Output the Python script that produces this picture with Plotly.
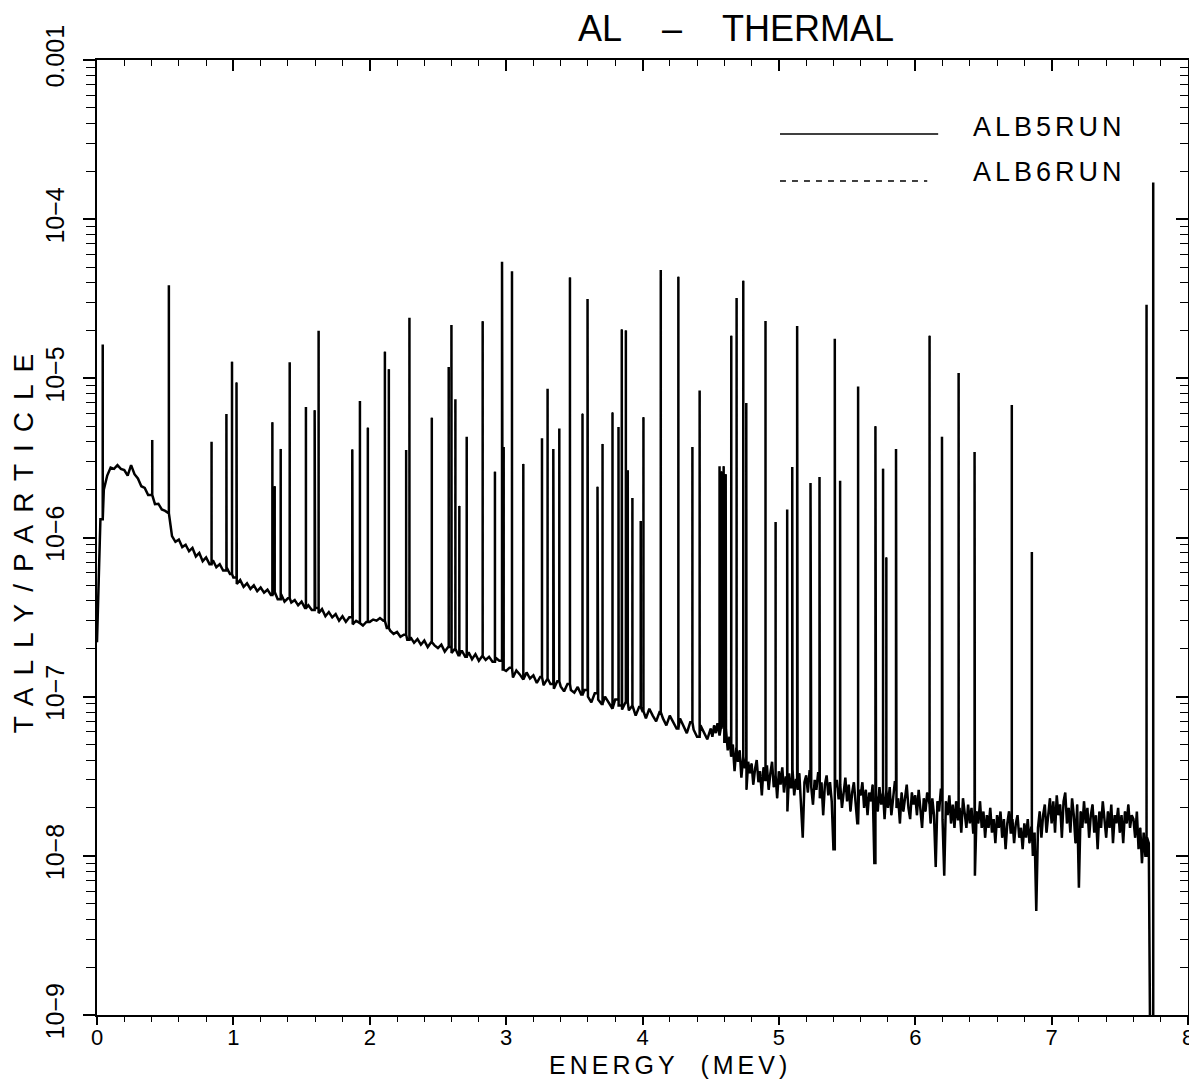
import plotly.graph_objects as go

# ---------------- data ----------------
# continuum below 4.5 MeV, bins of 0.025 MeV starting at 0
low_step = 0.025
continuum_low = [
    2.2e-7, 1.3e-6, 2.0e-6, 2.45e-6, 2.75e-6, 2.7e-6, 2.85e-6, 2.7e-6, 2.65e-6, 2.45e-6,
    2.85e-6, 2.5e-6, 2.35e-6, 2.1e-6, 2.05e-6, 1.85e-6, 1.85e-6, 1.62e-6, 1.63e-6, 1.5e-6,
    1.47e-6, 1.42e-6, 1.02e-6, 9.4e-7, 9.7e-7, 8.7e-7, 9.0e-7, 8.2e-7, 8.6e-7, 7.6e-7,
    8.0e-7, 7.1e-7, 7.5e-7, 6.8e-7, 7.2e-7, 6.5e-7, 6.8e-7, 6.2e-7, 6.5e-7, 5.9e-7,
    5.6e-7, 5.1e-7, 5.4e-7, 4.9e-7, 5.15e-7, 4.75e-7, 5.0e-7, 4.6e-7, 4.85e-7, 4.5e-7,
    4.7e-7, 4.35e-7, 4.55e-7, 4.1e-7, 4.4e-7, 3.95e-7, 4.15e-7, 3.9e-7, 4.05e-7, 3.75e-7,
    3.95e-7, 3.6e-7, 3.75e-7, 3.5e-7, 3.6e-7, 3.35e-7, 3.55e-7, 3.2e-7, 3.4e-7, 3.15e-7,
    3.3e-7, 3.0e-7, 3.2e-7, 2.95e-7, 3.15e-7, 2.85e-7, 3.0e-7, 2.9e-7, 2.8e-7, 2.95e-7,
    2.95e-7, 3.05e-7, 3.0e-7, 3.12e-7, 3.0e-7, 2.7e-7, 2.6e-7, 2.48e-7, 2.55e-7, 2.38e-7,
    2.45e-7, 2.28e-7, 2.36e-7, 2.18e-7, 2.3e-7, 2.12e-7, 2.25e-7, 2.05e-7, 2.2e-7, 2.1e-7,
    2.02e-7, 2.12e-7, 1.92e-7, 2.05e-7, 1.88e-7, 2.0e-7, 1.82e-7, 1.95e-7, 1.78e-7, 1.9e-7,
    1.72e-7, 1.85e-7, 1.68e-7, 1.8e-7, 1.7e-7, 1.78e-7, 1.66e-7, 1.75e-7, 1.68e-7, 1.48e-7,
    1.45e-7, 1.52e-7, 1.32e-7, 1.46e-7, 1.38e-7, 1.28e-7, 1.42e-7, 1.3e-7, 1.36e-7, 1.22e-7,
    1.33e-7, 1.18e-7, 1.3e-7, 1.2e-7, 1.12e-7, 1.25e-7, 1.16e-7, 1.08e-7, 1.2e-7, 1.1e-7,
    1.06e-7, 1.15e-7, 1.03e-7, 1.1e-7, 1.0e-7, 9.2e-8, 1.05e-7, 9.6e-8, 9.0e-8, 1.0e-7,
    9.2e-8, 8.4e-8, 9.6e-8, 8.8e-8, 8.3e-8, 9.2e-8, 8.2e-8, 8.8e-8, 7.6e-8, 8.6e-8,
    8.1e-8, 7.3e-8, 8.4e-8, 7.6e-8, 7.0e-8, 8.0e-8, 7.3e-8, 6.6e-8, 7.6e-8, 6.9e-8,
    6.3e-8, 7.3e-8, 6.5e-8, 5.9e-8, 6.9e-8, 6.2e-8, 5.6e-8, 6.6e-8, 5.9e-8, 5.4e-8,
]
# continuum from 4.5 MeV on, finer bins of 0.0125 MeV
high_start = 4.5
high_step = 0.0125
continuum_high = [
    6.3e-8, 5.6e-8, 6.6e-8, 5.9e-8, 6.8e-8, 5.7e-8, 6.4e-8, 7.0e-8,
    5.2e-8, 6.2e-8, 4.6e-8, 5.6e-8, 4.2e-8, 5.0e-8, 3.4e-8, 4.7e-8,
    3.9e-8, 4.6e-8, 3.1e-8, 4.2e-8, 3.6e-8, 2.6e-8, 3.9e-8, 3.3e-8,
    3.8e-8, 2.8e-8, 3.5e-8, 4.0e-8, 2.9e-8, 3.4e-8, 2.4e-8, 3.6e-8,
    3.0e-8, 3.7e-8, 2.6e-8, 3.3e-8, 3.9e-8, 2.7e-8, 3.2e-8, 2.3e-8,
    3.4e-8, 2.8e-8, 3.6e-8, 2.5e-8, 3.1e-8, 1.9e-8, 3.3e-8, 2.7e-8,
    3.5e-8, 2.4e-8, 3.0e-8, 2.6e-8, 3.3e-8, 2.2e-8, 1.3e-8, 2.9e-8,
    3.2e-8, 2.5e-8, 3.4e-8, 2.7e-8, 2.1e-8, 3.0e-8, 2.6e-8, 3.3e-8,
    2.3e-8, 2.9e-8, 1.8e-8, 2.8e-8, 3.2e-8, 2.4e-8, 2.9e-8, 2.2e-8,
    1.1e-8, 2.7e-8, 3.0e-8, 2.3e-8, 2.8e-8, 2.0e-8, 2.6e-8, 3.1e-8,
    2.2e-8, 2.8e-8, 1.9e-8, 2.5e-8, 2.9e-8, 2.1e-8, 1.6e-8, 2.6e-8,
    2.4e-8, 2.9e-8, 2.0e-8, 2.6e-8, 1.8e-8, 2.5e-8, 2.2e-8, 2.8e-8,
    9.0e-9, 2.4e-8, 1.9e-8, 2.7e-8, 2.1e-8, 2.5e-8, 1.7e-8, 2.6e-8,
    2.0e-8, 2.7e-8, 1.8e-8, 2.4e-8, 2.9e-8, 2.0e-8, 2.3e-8, 1.6e-8,
    2.5e-8, 1.9e-8, 2.3e-8, 2.8e-8, 2.0e-8, 1.7e-8, 2.5e-8, 2.1e-8,
    2.4e-8, 1.8e-8, 2.6e-8, 2.0e-8, 1.5e-8, 2.3e-8, 1.9e-8, 2.5e-8,
    2.1e-8, 1.6e-8, 2.3e-8, 1.8e-8, 8.5e-9, 2.2e-8, 1.9e-8, 2.6e-8,
    1.7e-8, 7.5e-9, 2.2e-8, 1.8e-8, 2.4e-8, 1.6e-8, 2.1e-8, 1.5e-8,
    2.2e-8, 1.7e-8, 2.0e-8, 1.4e-8, 2.3e-8, 1.8e-8, 1.5e-8, 2.1e-8,
    1.6e-8, 2.0e-8, 1.4e-8, 7.5e-9, 1.9e-8, 1.6e-8, 2.2e-8, 1.5e-8,
    1.9e-8, 1.3e-8, 1.8e-8, 1.5e-8, 2.0e-8, 1.4e-8, 1.7e-8, 1.2e-8,
    1.8e-8, 1.5e-8, 1.9e-8, 1.3e-8, 1.7e-8, 1.1e-8, 1.6e-8, 1.9e-8,
    1.4e-8, 1.7e-8, 1.2e-8, 1.6e-8, 1.8e-8, 1.3e-8, 1.5e-8, 1.1e-8,
    1.6e-8, 1.3e-8, 1.7e-8, 1.2e-8, 1.5e-8, 1.0e-8, 1.4e-8, 4.5e-9,
    1.5e-8, 1.9e-8, 1.3e-8, 1.8e-8, 2.1e-8, 1.4e-8, 1.9e-8, 2.3e-8,
    1.6e-8, 2.2e-8, 1.4e-8, 2.4e-8, 1.8e-8, 2.1e-8, 1.3e-8, 2.2e-8,
    2.5e-8, 1.6e-8, 2.0e-8, 1.4e-8, 2.3e-8, 1.8e-8, 1.2e-8, 2.1e-8,
    6.3e-9, 1.9e-8, 1.5e-8, 2.2e-8, 1.6e-8, 2.0e-8, 1.3e-8, 1.8e-8,
    2.1e-8, 1.4e-8, 1.8e-8, 1.1e-8, 1.9e-8, 1.5e-8, 2.2e-8, 1.6e-8,
    1.3e-8, 1.9e-8, 1.5e-8, 2.1e-8, 1.2e-8, 1.8e-8, 1.6e-8, 2.0e-8,
    1.4e-8, 1.8e-8, 1.2e-8, 1.9e-8, 1.6e-8, 2.1e-8, 1.5e-8, 1.8e-8,
    1.7e-8, 1.3e-8, 1.9e-8, 1.1e-8, 1.5e-8, 9.0e-9, 1.4e-8, 1.0e-8,
    1.3e-8, 1.2e-8, 3.0e-10, 3.0e-10, 3.0e-10,
]

peak_energy = [
    0.042, 0.405, 0.527, 0.840, 0.949, 0.990, 1.023, 1.286, 1.303, 1.347,
    1.413, 1.532, 1.596, 1.625, 1.872, 1.928, 1.986, 2.111, 2.140, 2.267,
    2.291, 2.455, 2.579, 2.599, 2.628, 2.657, 2.711, 2.828, 2.918, 2.970,
    2.982, 3.043, 3.126, 3.263, 3.304, 3.346, 3.390, 3.468, 3.560, 3.597,
    3.670, 3.707, 3.780, 3.824, 3.848, 3.878, 3.892, 3.926, 3.987, 4.007,
    4.134, 4.263, 4.366, 4.419, 4.565, 4.580, 4.595, 4.610, 4.651, 4.690,
    4.739, 4.761, 4.902, 4.976, 5.061, 5.098, 5.134, 5.232, 5.298, 5.410,
    5.449, 5.581, 5.708, 5.764, 5.788, 5.859, 6.105, 6.196, 6.318, 6.435,
    6.708, 6.855, 7.696, 7.745,
]
peak_height = [
    1.63e-5, 4.1e-6, 3.85e-5, 4.0e-6, 5.96e-6, 1.27e-5, 9.4e-6, 5.3e-6, 2.1e-6, 3.6e-6,
    1.26e-5, 6.6e-6, 6.3e-6, 1.99e-5, 3.57e-6, 7.2e-6, 4.9e-6, 1.47e-5, 1.14e-5, 3.54e-6,
    2.4e-5, 5.65e-6, 1.18e-5, 2.16e-5, 7.4e-6, 1.58e-6, 4.3e-6, 2.28e-5, 2.59e-6, 5.4e-5,
    3.7e-6, 4.7e-5, 2.9e-6, 4.2e-6, 8.6e-6, 3.6e-6, 4.84e-6, 4.3e-5, 6.0e-6, 3.15e-5,
    2.08e-6, 3.87e-6, 6.1e-6, 4.95e-6, 2.03e-5, 2.0e-5, 2.65e-6, 1.77e-6, 1.27e-6, 5.7e-6,
    4.8e-5, 4.35e-5, 3.7e-6, 8.4e-6, 2.8e-6, 2.6e-6, 2.8e-6, 2.5e-6, 1.85e-5, 3.2e-5,
    4.1e-5, 7.0e-6, 2.29e-5, 1.25e-6, 1.5e-6, 2.77e-6, 2.13e-5, 2.2e-6, 2.4e-6, 1.77e-5,
    2.27e-6, 8.9e-6, 5.0e-6, 2.7e-6, 7.5e-7, 3.6e-6, 1.85e-5, 4.3e-6, 1.08e-5, 3.44e-6,
    6.8e-6, 8.1e-7, 2.9e-5, 1.7e-4,
]

series_names = ["ALB5RUN", "ALB6RUN"]
x_tick_vals = [0, 1, 2, 3, 4, 5, 6, 7, 8]
x_tick_text = ["0", "1", "2", "3", "4", "5", "6", "7", "8"]
y_tick_vals = [1e-9, 1e-8, 1e-7, 1e-6, 1e-5, 1e-4, 1e-3]
y_tick_text = ["10\u22129", "10\u22128", "10\u22127", "10\u22126", "10\u22125", "10\u22124", "0.001"]
title_text = "AL\u00a0\u00a0\u00a0\u00a0\u2013\u00a0\u00a0\u00a0\u00a0THERMAL"
x_title = "ENERGY\u00a0\u00a0(MEV)"
y_title = "TALLY/PARTICLE"

# ---------------- build the spectrum line ----------------
cont_energy = [round(low_step * i, 4) for i in range(len(continuum_low))] + \
              [round(high_start + high_step * i, 4) for i in range(len(continuum_high))]
cont_value = continuum_low + continuum_high
peaks = sorted(zip(peak_energy, peak_height))
xs, ys = [], []
j = 0
for e, v in zip(cont_energy, cont_value):
    while j < len(peaks) and peaks[j][0] <= e:
        pe, ph = peaks[j]
        base = ys[-1] if ys else v
        xs += [pe, pe, pe]
        ys += [base, ph, base]
        j += 1
    xs.append(e)
    ys.append(v)

FONT = "Liberation Sans"

fig = go.Figure()
fig.add_trace(go.Scatter(x=xs, y=ys, mode="lines", name=series_names[1],
                         line=dict(color="black", width=1, dash="dash"),
                         showlegend=False, hoverinfo="skip"))
fig.add_trace(go.Scatter(x=xs, y=ys, mode="lines", name=series_names[0],
                         line=dict(color="black", width=2.5),
                         showlegend=False))
# invisible trace that carries the mirrored (top / right) axes
fig.add_trace(go.Scatter(x=[0, 8], y=[1e-9, 1e-3], xaxis="x2", yaxis="y2",
                         mode="markers", marker=dict(opacity=0),
                         showlegend=False, hoverinfo="skip"))

y_minor = [k * 10.0 ** d for d in range(-9, -3) for k in range(2, 10)]

axis_common = dict(showgrid=False, zeroline=False, showline=True, automargin=False,
                   linecolor="black", linewidth=1.5, tickcolor="black", tickwidth=1.5)

fig.update_layout(
    width=1189, height=1073,
    margin=dict(l=89, r=9, t=52, b=66),
    paper_bgcolor="white", plot_bgcolor="white",
    font=dict(family=FONT, color="black"),
    showlegend=False,
    xaxis=dict(range=[0, 8], tickmode="array", tickvals=x_tick_vals, ticktext=x_tick_text,
               ticks="outside", ticklen=8, ticklabeloverflow="allow", ticklabelstandoff=-6,
               minor=dict(tickmode="linear", tick0=0, dtick=0.2, ticks="outside",
                          ticklen=5, tickcolor="black", tickwidth=1.2),
               tickfont=dict(size=22, family=FONT),
               **axis_common),
    yaxis=dict(type="log", range=[-9, -3], tickmode="array", tickvals=y_tick_vals,
               ticktext=y_tick_text, ticks="outside", ticklen=12, tickangle=-90,
               ticklabeloverflow="allow",
               minor=dict(tickmode="array", tickvals=y_minor, ticks="outside",
                          ticklen=9, tickcolor="black", tickwidth=1.2),
               tickfont=dict(size=25, family=FONT), ticklabelstandoff=9,
               title=dict(text=y_title, font=dict(size=28, family=FONT), standoff=14),
               **axis_common),
    xaxis2=dict(range=[0, 8], overlaying="x", side="top", tickmode="array",
                tickvals=x_tick_vals, ticks="inside", ticklen=11, showticklabels=False,
                minor=dict(tickmode="linear", tick0=0, dtick=0.2, ticks="inside",
                           ticklen=6, tickcolor="black", tickwidth=1.2),
                **axis_common),
    yaxis2=dict(type="log", range=[-9, -3], overlaying="y", side="right",
                tickmode="array", tickvals=y_tick_vals, ticks="inside", ticklen=12,
                showticklabels=False,
                minor=dict(tickmode="array", tickvals=y_minor, ticks="inside",
                           ticklen=8, tickcolor="black", tickwidth=1.2),
                **axis_common),
)

# title
fig.add_annotation(text=title_text, xref="paper", yref="paper", x=0.586, y=1.033,
                   xanchor="center", yanchor="middle", showarrow=False,
                   font=dict(size=36, family=FONT))
# x-axis title (placed as in the original: slightly right of centre)
fig.add_annotation(text=x_title, xref="paper", yref="paper", x=0.525, y=-0.0525,
                   xanchor="center", yanchor="middle", showarrow=False,
                   font=dict(size=25, family=FONT))

# legend drawn as in the original plot (long line samples)
legend_rows = [(series_names[0], "solid", 0.9225, 0.9298, 0.771),
               (series_names[1], "6px,6px", 0.8733, 0.8827, 0.761)]
for name, dash, ly, ty, x1 in legend_rows:
    fig.add_shape(type="line", xref="paper", yref="paper", x0=0.626, x1=x1, y0=ly, y1=ly,
                  line=dict(color="black", width=1.5, dash=dash))
    fig.add_annotation(text=name, xref="paper", yref="paper", x=0.814, y=ty,
                       xanchor="left", yanchor="middle", showarrow=False,
                       font=dict(size=27, family=FONT))

# wide letter spacing like the plotter lettering of the original
post = """
var gd = document.getElementById('{plot_id}');
function spread() {
  gd.querySelectorAll('text').forEach(function (t) {
    var s = t.textContent;
    if (s === 'TALLY/PARTICLE') t.style.letterSpacing = '12px';
    else if (s.indexOf('ENERGY') === 0) t.style.letterSpacing = '4px';
    else if (s === 'ALB5RUN' || s === 'ALB6RUN') t.style.letterSpacing = '4px';
  });
}
spread();
gd.on('plotly_afterplot', spread);
"""
fig.write_html("out.html", post_script=post)
